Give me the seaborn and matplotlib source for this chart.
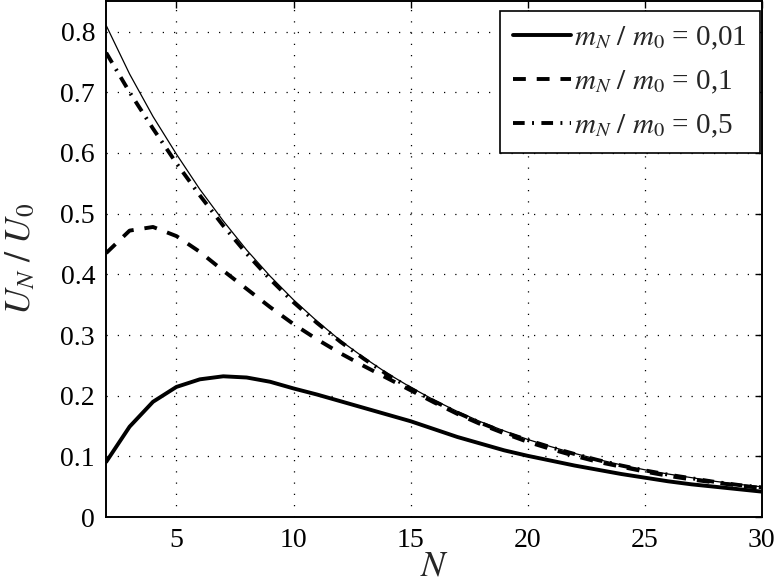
import numpy as np
import pandas as pd
import matplotlib
matplotlib.use("Agg")
import matplotlib.pyplot as plt
import seaborn as sns

N = list(range(2, 31))
# m_N/m_0 = 0,01
u_001 = [0.091, 0.149, 0.190, 0.2145, 0.227, 0.232, 0.230, 0.223, 0.212, 0.202,
         0.191, 0.180, 0.169, 0.158, 0.145, 0.132, 0.121, 0.110, 0.101, 0.093,
         0.085, 0.078, 0.071, 0.065, 0.059, 0.054, 0.050, 0.046, 0.042]
# m_N/m_0 = 0,1
u_01 = [0.435, 0.472, 0.478, 0.463, 0.437, 0.406, 0.376, 0.346, 0.318, 0.293,
        0.270, 0.249, 0.229, 0.209, 0.189, 0.170, 0.153, 0.138, 0.124, 0.112,
        0.101, 0.091, 0.083, 0.075, 0.068, 0.062, 0.057, 0.052, 0.048]
# m_N/m_0 = 0,5
u_05 = [0.765, 0.700, 0.640, 0.583, 0.530, 0.480, 0.434, 0.392, 0.354, 0.320,
        0.289, 0.261, 0.235, 0.212, 0.191, 0.172, 0.155, 0.140, 0.127, 0.115,
        0.104, 0.094, 0.085, 0.077, 0.070, 0.064, 0.058, 0.053, 0.049]
# limiting curve (thin line, no legend entry)
u_lim = [0.810, 0.730, 0.660, 0.598, 0.540, 0.488, 0.440, 0.397, 0.358, 0.323,
         0.291, 0.263, 0.237, 0.214, 0.193, 0.174, 0.157, 0.142, 0.128, 0.116,
         0.105, 0.095, 0.086, 0.078, 0.071, 0.065, 0.059, 0.054, 0.050]

labels = [r"$m_N\ /\ m_0$ = 0,01", r"$m_N\ /\ m_0$ = 0,1", r"$m_N\ /\ m_0$ = 0,5"]
x_ticks = [5, 10, 15, 20, 25, 30]
y_ticks = [0, 0.1, 0.2, 0.3, 0.4, 0.5, 0.6, 0.7, 0.8]
y_ticklabels = ["0", "0.1", "0.2", "0.3", "0.4", "0.5", "0.6", "0.7", "0.8"]

sns.set_style("white")
plt.rcParams["font.family"] = ["Liberation Serif", "DejaVu Serif"]
plt.rcParams["mathtext.fontset"] = "stix"

fig = plt.figure(figsize=(7.75, 5.83), dpi=100)
ax = fig.add_axes([0.137, 0.113, 0.846, 0.885])

df_lim = pd.DataFrame({"N": N, "U": u_lim})
sns.lineplot(data=df_lim, x="N", y="U", ax=ax, color="black", linewidth=0.9, label="_nolegend_")
styles = ["-", (0, (3.3, 2.8)), (0, (3.0, 1.9, 0.5, 1.9))]
for vals, lab, ls in zip([u_001, u_01, u_05], labels, styles):
    d = pd.DataFrame({"N": N, "U": vals})
    sns.lineplot(data=d, x="N", y="U", ax=ax, color="black", linewidth=2.8,
                 linestyle=ls, label=lab)

ax.set_xlim(2, 30)
ax.set_ylim(0, 0.85)
ax.set_xticks(x_ticks)
ax.set_yticks(y_ticks)
ax.set_yticklabels(y_ticklabels)
ax.tick_params(direction="in", top=True, right=True, labelsize=20, length=5,
               width=1, colors="black", pad=8)
ax.grid(True, color="black", linestyle=(0, (1, 8)), linewidth=0.9)
for sp in ax.spines.values():
    sp.set_color("black")
    sp.set_linewidth(1.4)
ax.set_xlabel(r"$N$", fontsize=26, labelpad=-2)
ax.set_ylabel(r"$U_N\ /\ U_0$", fontsize=26, labelpad=16)

leg = ax.legend(loc="upper right", bbox_to_anchor=(0.997, 0.98), fontsize=21,
                frameon=True, fancybox=False, edgecolor="black", framealpha=1,
                handlelength=2.0, borderaxespad=0.0, handletextpad=0.1,
                labelspacing=0.58, borderpad=0.45)
leg.get_frame().set_linewidth(1.2)

fig.savefig("out.png", dpi=100)
